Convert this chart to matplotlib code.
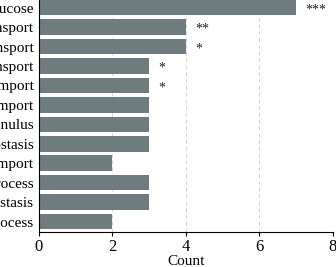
import matplotlib.pyplot as plt

terms = ['Cellular response to glucose', 'Amino acid transport', 'Sugar transport',
         'Lipid transport', 'Protein import', 'Mitochondrial import', 'Septin annulus',
         'Ion homeostasis', 'Nuclear import', 'Metabolic process',
         'Redox homeostasis', 'Catabolic process']
counts = [7, 4, 4, 3, 3, 3, 3, 3, 2, 3, 3, 2]
stars = ['***', '**', '*', '*', '*', '', '', '', '', '', '', '']

plt.rcParams['font.family'] = 'Liberation Serif'
fig = plt.figure(figsize=(3.36, 2.67), dpi=100)
ax = fig.add_axes([0.116, 0.131, 0.875, 0.873])

ypos = list(range(len(terms)))[::-1]
ax.barh(ypos, counts, height=0.8, color='#6e7c7d', zorder=2)
for y, c, s in zip(ypos, counts, stars):
    if s:
        ax.text(c + 0.25, y - 0.12, s, ha='left', va='center', fontsize=10, color='#222222')

ax.set_yticks(ypos)
ax.set_yticklabels(terms, fontsize=11)
ax.set_xlim(0, 8)
ax.set_ylim(-0.54, 11.45)
ax.set_xticks([0, 2, 4, 6, 8])
ax.tick_params(axis='y', length=0, pad=4)
ax.tick_params(axis='x', length=3, labelsize=12, pad=2)
ax.set_xlabel('Count', fontsize=11, labelpad=0)
ax.xaxis.grid(True, linestyle=(0, (4, 3)), color='#d4d4d4', linewidth=0.7, zorder=0)
for edge in ['top', 'right']:
    ax.spines[edge].set_visible(False)

fig.savefig('out.png', dpi=100)
